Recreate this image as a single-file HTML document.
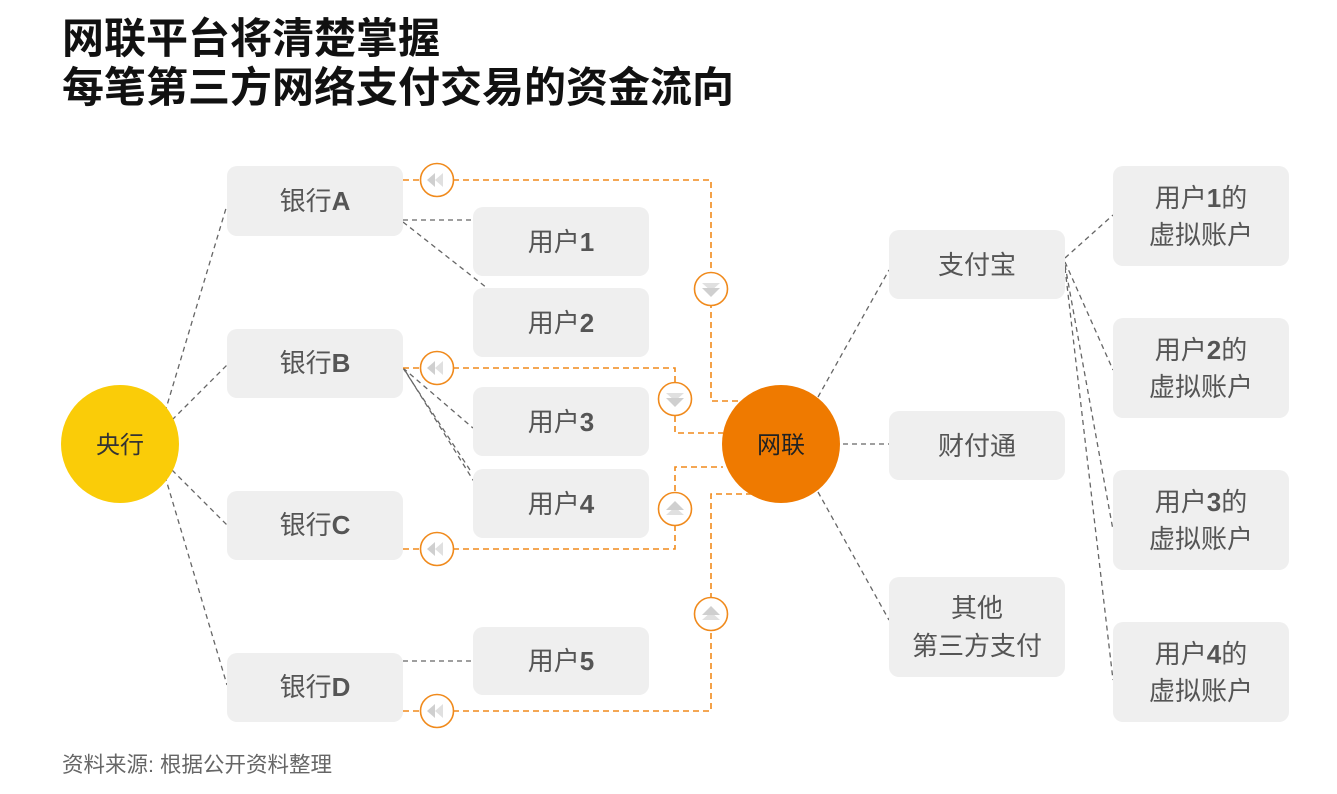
<!DOCTYPE html>
<html><head><meta charset="utf-8"><style>
html,body{margin:0;padding:0;background:#fff;}
body{width:1337px;height:789px;overflow:hidden;font-family:"Liberation Sans","Noto Sans CJK SC",sans-serif;}
</style></head><body>
<svg width="1337" height="789" viewBox="0 0 1337 789" xmlns="http://www.w3.org/2000/svg" font-family="Liberation Sans, Noto Sans CJK SC, sans-serif">
<defs>
<g id="al"><circle r="16.5" fill="#fff" stroke="#F08A1C" stroke-width="1.6"/><path d="M-2,-7 L-10,0 L-2,7Z" fill="#cfcfcf"/><path d="M6,-7 L-2,0 L6,7Z" fill="#e0e0e0"/></g>
<g id="ad"><circle r="16.5" fill="#fff" stroke="#F08A1C" stroke-width="1.6"/><path d="M-9,-6 L9,-6 L0,2Z" fill="#e0e0e0"/><path d="M-9,-1 L9,-1 L0,8Z" fill="#cfcfcf"/></g>
<g id="au"><circle r="16.5" fill="#fff" stroke="#F08A1C" stroke-width="1.6"/><path d="M-9,6 L9,6 L0,-2Z" fill="#e0e0e0"/><path d="M-9,1 L9,1 L0,-8Z" fill="#cfcfcf"/></g>
</defs>
<text x="62" y="53" font-size="42" font-weight="bold" fill="#111">网联平台将清楚掌握</text>
<text x="62" y="102" font-size="42" font-weight="bold" fill="#111">每笔第三方网络支付交易的资金流向</text>

<g stroke="#666" stroke-width="1.3" stroke-dasharray="5,4" fill="none">
<path d="M165,412 L227,205"/><path d="M172,420 L227,365"/><path d="M172,470 L227,525"/><path d="M165,476 L227,685"/>
<path d="M403,220 L473,220"/><path d="M403,222 L487,288"/>
<path d="M403,368 L473,428"/><path d="M403,368 L470,470"/><path d="M406,372 L478,488"/>
<path d="M403,661 L473,661"/>
<path d="M818,397 L889,270"/><path d="M843,444 L889,444"/><path d="M818,492 L889,620"/>
<path d="M1065,258 L1113,215"/><path d="M1065,262 L1113,370"/><path d="M1065,265 L1113,530"/><path d="M1065,268 L1113,680"/>
</g>

<g stroke="#F08A1C" stroke-width="1.6" stroke-dasharray="6,4" fill="none">
<path d="M403,180 L711,180 L711,401 L740,401"/>
<path d="M403,368 L675,368 L675,433 L723,433"/>
<path d="M403,549 L675,549 L675,467 L723,467"/>
<path d="M403,711 L711,711 L711,494 L770,494"/>
</g>

<g fill="#EFEFEF">
<rect x="227" y="166" width="176" height="70" rx="10"/>
<rect x="227" y="329" width="176" height="69" rx="10"/>
<rect x="227" y="491" width="176" height="69" rx="10"/>
<rect x="227" y="653" width="176" height="69" rx="10"/>
<rect x="473" y="207" width="176" height="69" rx="10"/>
<rect x="473" y="288" width="176" height="69" rx="10"/>
<rect x="473" y="387" width="176" height="69" rx="10"/>
<rect x="473" y="469" width="176" height="69" rx="10"/>
<rect x="473" y="627" width="176" height="68" rx="10"/>
<rect x="889" y="230" width="176" height="69" rx="10"/>
<rect x="889" y="411" width="176" height="69" rx="10"/>
<rect x="889" y="577" width="176" height="100" rx="10"/>
<rect x="1113" y="166" width="176" height="100" rx="10"/>
<rect x="1113" y="318" width="176" height="100" rx="10"/>
<rect x="1113" y="470" width="176" height="100" rx="10"/>
<rect x="1113" y="622" width="176" height="100" rx="10"/>
</g>

<circle cx="120" cy="444" r="59" fill="#FACC08"/>
<circle cx="781" cy="444" r="59" fill="#EF7A00"/>
<text x="120" y="453" font-size="24" text-anchor="middle" fill="#333">央行</text>
<text x="781" y="453" font-size="24" text-anchor="middle" fill="#222">网联</text>

<g font-size="26" fill="#555" text-anchor="middle">
<text x="315" y="210">银行<tspan font-weight="bold">A</tspan></text>
<text x="315" y="372">银行<tspan font-weight="bold">B</tspan></text>
<text x="315" y="534">银行<tspan font-weight="bold">C</tspan></text>
<text x="315" y="696">银行<tspan font-weight="bold">D</tspan></text>
<text x="561" y="251">用户<tspan font-weight="bold">1</tspan></text>
<text x="561" y="332">用户<tspan font-weight="bold">2</tspan></text>
<text x="561" y="431">用户<tspan font-weight="bold">3</tspan></text>
<text x="561" y="513">用户<tspan font-weight="bold">4</tspan></text>
<text x="561" y="670">用户<tspan font-weight="bold">5</tspan></text>
<text x="977" y="274">支付宝</text>
<text x="977" y="455">财付通</text>
<text x="977" y="617">其他</text>
<text x="977" y="655">第三方支付</text>
<text x="1201" y="207">用户<tspan font-weight="bold">1</tspan>的</text>
<text x="1201" y="244">虚拟账户</text>
<text x="1201" y="359">用户<tspan font-weight="bold">2</tspan>的</text>
<text x="1201" y="396">虚拟账户</text>
<text x="1201" y="511">用户<tspan font-weight="bold">3</tspan>的</text>
<text x="1201" y="548">虚拟账户</text>
<text x="1201" y="663">用户<tspan font-weight="bold">4</tspan>的</text>
<text x="1201" y="700">虚拟账户</text>
</g>

<use href="#al" x="437" y="180"/>
<use href="#ad" x="711" y="289"/>
<use href="#al" x="437" y="368"/>
<use href="#ad" x="675" y="399"/>
<use href="#al" x="437" y="549"/>
<use href="#au" x="675" y="509"/>
<use href="#au" x="711" y="614"/>
<use href="#al" x="437" y="711"/>

<text x="62" y="772" font-size="21.5" fill="#666">资料来源: 根据公开资料整理</text>
</svg>
</body></html>
